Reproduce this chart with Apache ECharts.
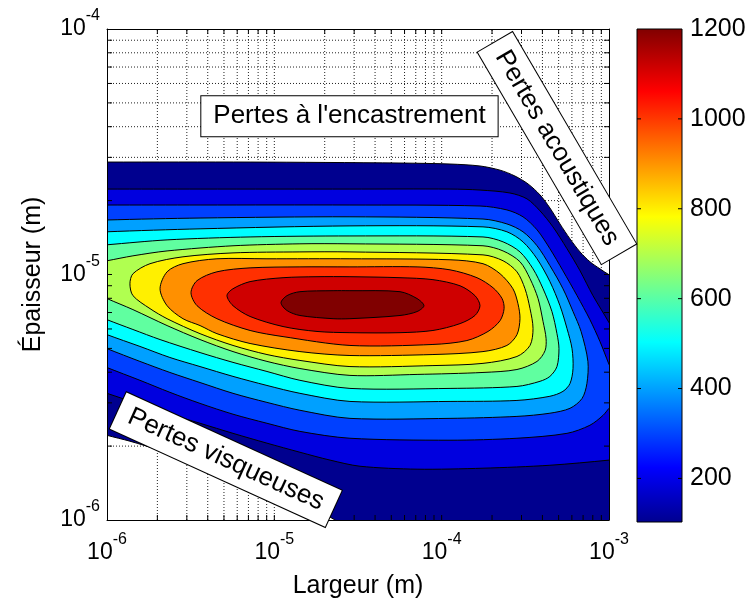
<!DOCTYPE html>
<html>
<head>
<meta charset="utf-8">
<script src="https://cdn.jsdelivr.net/npm/echarts@6/dist/echarts.min.js"></script>
<style>
html,body{margin:0;padding:0;background:#fff;}
#chart{width:750px;height:604px;}
</style>
</head>
<body>
<div id="chart"></div>
<script>
// ---------------- DATA ----------------
// Contour levels (same unit as colour bar)
const levels = [100, 200, 300, 400, 500, 600, 700, 800, 900, 1000, 1100, 1200];

// Filled-contour boundaries: [log10(largeur m), log10(épaisseur m)]
// (open contours are continued slightly outside the axes and clipped)
const contour100 = [[-6.072,-4.542],[-6.000,-4.542],[-5.145,-4.542],[-4.249,-4.546],[-3.950,-4.550],[-3.771,-4.558],[-3.651,-4.575],[-3.562,-4.599],[-3.484,-4.631],[-3.412,-4.676],[-3.353,-4.729],[-3.293,-4.794],[-3.233,-4.855],[-3.173,-4.908],[-3.114,-4.948],[-3.054,-4.977],[-3.000,-5.001],[-2.904,-5.038],[-2.904,-6.073],[-4.578,-6.032],[-4.637,-6.000],[-4.787,-5.947],[-4.966,-5.898],[-5.205,-5.829],[-5.444,-5.766],[-5.683,-5.716],[-5.863,-5.679],[-6.000,-5.655],[-6.072,-5.639]];
const contour200 = [[-6.072,-4.652],[-6.000,-4.652],[-5.444,-4.652],[-4.548,-4.652],[-3.950,-4.652],[-3.771,-4.656],[-3.592,-4.668],[-3.490,-4.692],[-3.412,-4.741],[-3.335,-4.806],[-3.251,-4.895],[-3.173,-4.985],[-3.096,-5.086],[-3.000,-5.196],[-2.952,-5.261],[-2.904,-5.505],[-2.928,-5.748],[-3.000,-5.756],[-3.353,-5.777],[-3.753,-5.789],[-4.147,-5.793],[-4.488,-5.781],[-4.667,-5.756],[-4.847,-5.724],[-5.044,-5.687],[-5.247,-5.647],[-5.444,-5.606],[-5.624,-5.569],[-5.803,-5.529],[-6.000,-5.484],[-6.072,-5.468]];
const contour300 = [[-6.072,-4.717],[-6.000,-4.717],[-5.444,-4.717],[-4.548,-4.717],[-3.771,-4.721],[-3.610,-4.737],[-3.514,-4.765],[-3.430,-4.818],[-3.353,-4.895],[-3.275,-4.985],[-3.191,-5.086],[-3.114,-5.184],[-3.054,-5.273],[-3.000,-5.366],[-2.964,-5.423],[-2.940,-5.484],[-2.964,-5.521],[-3.000,-5.545],[-3.036,-5.574],[-3.114,-5.614],[-3.251,-5.647],[-3.550,-5.667],[-3.950,-5.675],[-4.548,-5.667],[-4.847,-5.639],[-5.044,-5.606],[-5.247,-5.569],[-5.444,-5.525],[-5.624,-5.480],[-5.803,-5.431],[-6.000,-5.379],[-6.072,-5.358]];
const contour400 = [[-6.072,-4.782],[-6.000,-4.778],[-5.444,-4.770],[-4.548,-4.765],[-3.753,-4.774],[-3.610,-4.794],[-3.514,-4.826],[-3.430,-4.883],[-3.353,-4.964],[-3.275,-5.058],[-3.215,-5.151],[-3.167,-5.232],[-3.126,-5.354],[-3.132,-5.444],[-3.161,-5.505],[-3.233,-5.545],[-3.353,-5.565],[-3.550,-5.578],[-3.950,-5.586],[-4.548,-5.586],[-4.847,-5.553],[-5.044,-5.521],[-5.247,-5.484],[-5.444,-5.440],[-5.624,-5.399],[-5.803,-5.354],[-6.000,-5.302],[-6.072,-5.281]];
const contour500 = [[-6.072,-4.830],[-6.000,-4.826],[-5.444,-4.814],[-4.548,-4.802],[-3.753,-4.806],[-3.610,-4.826],[-3.514,-4.867],[-3.430,-4.936],[-3.353,-5.029],[-3.293,-5.127],[-3.251,-5.220],[-3.221,-5.302],[-3.215,-5.383],[-3.233,-5.444],[-3.275,-5.476],[-3.353,-5.496],[-3.550,-5.513],[-3.950,-5.517],[-4.548,-5.517],[-4.847,-5.484],[-5.044,-5.452],[-5.247,-5.415],[-5.444,-5.375],[-5.624,-5.338],[-5.803,-5.293],[-6.000,-5.245],[-6.072,-5.224]];
const contour600 = [[-6.072,-4.883],[-6.000,-4.879],[-5.641,-4.859],[-5.145,-4.847],[-4.548,-4.843],[-3.753,-4.847],[-3.633,-4.867],[-3.532,-4.908],[-3.454,-4.977],[-3.394,-5.058],[-3.341,-5.151],[-3.311,-5.241],[-3.299,-5.302],[-3.311,-5.375],[-3.353,-5.415],[-3.412,-5.435],[-3.550,-5.456],[-3.950,-5.464],[-4.548,-5.464],[-4.847,-5.431],[-5.044,-5.395],[-5.247,-5.358],[-5.444,-5.318],[-5.683,-5.265],[-5.845,-5.224],[-6.000,-5.184],[-6.072,-5.163]];
const contour700 = [[-6.072,-4.952],[-6.000,-4.944],[-5.845,-4.924],[-5.641,-4.904],[-5.247,-4.883],[-4.847,-4.875],[-4.548,-4.875],[-3.753,-4.883],[-3.633,-4.904],[-3.532,-4.948],[-3.472,-5.017],[-3.424,-5.098],[-3.394,-5.192],[-3.376,-5.261],[-3.382,-5.310],[-3.430,-5.354],[-3.550,-5.387],[-3.753,-5.399],[-4.147,-5.407],[-4.548,-5.411],[-4.847,-5.383],[-5.044,-5.354],[-5.247,-5.314],[-5.444,-5.265],[-5.641,-5.208],[-5.845,-5.143],[-6.000,-5.098],[-6.072,-5.074]];
const contour800 = [[-5.863,-5.038],[-5.845,-4.997],[-5.743,-4.956],[-5.546,-4.928],[-5.247,-4.912],[-4.847,-4.908],[-4.548,-4.908],[-3.753,-4.920],[-3.633,-4.944],[-3.550,-4.989],[-3.502,-5.058],[-3.472,-5.139],[-3.454,-5.220],[-3.472,-5.289],[-3.550,-5.334],[-3.753,-5.362],[-4.052,-5.371],[-4.548,-5.375],[-4.847,-5.350],[-5.044,-5.326],[-5.247,-5.289],[-5.444,-5.241],[-5.641,-5.180],[-5.743,-5.139],[-5.845,-5.086]];
const contour900 = [[-5.683,-5.058],[-5.641,-4.989],[-5.546,-4.956],[-5.343,-4.936],[-5.044,-4.936],[-4.548,-4.936],[-3.950,-4.940],[-3.753,-4.956],[-3.651,-4.997],[-3.574,-5.058],[-3.544,-5.119],[-3.532,-5.180],[-3.550,-5.245],[-3.610,-5.289],[-3.753,-5.314],[-4.052,-5.326],[-4.548,-5.330],[-4.847,-5.314],[-5.145,-5.281],[-5.343,-5.241],[-5.444,-5.208],[-5.546,-5.180],[-5.641,-5.127]];
const contour1000 = [[-5.498,-5.074],[-5.462,-5.025],[-5.343,-4.989],[-5.145,-4.973],[-4.847,-4.969],[-4.548,-4.969],[-4.147,-4.969],[-3.950,-4.981],[-3.789,-5.013],[-3.693,-5.054],[-3.639,-5.098],[-3.627,-5.139],[-3.651,-5.188],[-3.723,-5.232],[-3.849,-5.269],[-4.052,-5.285],[-4.548,-5.289],[-4.948,-5.253],[-5.145,-5.228],[-5.343,-5.180],[-5.462,-5.127]];
const contour1100 = [[-5.283,-5.086],[-5.247,-5.058],[-5.145,-5.029],[-4.948,-5.013],[-4.745,-5.009],[-4.548,-5.009],[-4.249,-5.013],[-4.052,-5.021],[-3.890,-5.046],[-3.801,-5.086],[-3.771,-5.127],[-3.801,-5.167],[-3.890,-5.200],[-4.052,-5.228],[-4.249,-5.237],[-4.548,-5.237],[-4.745,-5.232],[-4.948,-5.212],[-5.145,-5.171],[-5.247,-5.127]];
const contour1200 = [[-4.960,-5.115],[-4.924,-5.086],[-4.847,-5.070],[-4.649,-5.066],[-4.548,-5.066],[-4.249,-5.070],[-4.147,-5.098],[-4.106,-5.127],[-4.147,-5.151],[-4.249,-5.167],[-4.548,-5.180],[-4.649,-5.180],[-4.847,-5.167],[-4.924,-5.147]];

// Axes ranges and ticks
const xRange = [1e-6, 1e-3];
const yRange = [1e-6, 1e-4];
const xDecades = [1e-6, 1e-5, 1e-4];
const yDecades = [1e-6, 1e-5];
const minorMultipliers = [1, 2, 3, 4, 5, 6, 7, 8, 9];

// Colour bar
const colorRange = [103, 1200];
const colorTicks = [200, 400, 600, 800, 1000, 1200];

// Annotations: text, log10(largeur), log10(épaisseur), angle (deg)
const annotTexts = ["Pertes à l'encastrement", "Pertes acoustiques", "Pertes visqueuses"];
const annotLogX = [-4.551, -3.311, -5.290];
const annotLogY = [-4.355, -4.485, -5.754];
const annotAngle = [0, -59.7, -24.5];

// ---------------- STYLE ----------------
const FONT = "'Liberation Sans', Arial, Helvetica, sans-serif";
const bandColors = ['#00008F','#0000DF','#0040FF','#00A0FF','#00FFFF','#60FFA0','#B0FF50','#FFF000','#FF9000','#FF3000','#CF0000','#800000'];
const jetStops = [
  {offset: 0, color: '#00008F'},
  {offset: 7/63, color: '#0000FF'},
  {offset: 23/63, color: '#00FFFF'},
  {offset: 39/63, color: '#FFFF00'},
  {offset: 55/63, color: '#FF0000'},
  {offset: 1, color: '#800000'}
];

const contours = [contour100, contour200, contour300, contour400, contour500, contour600,
                  contour700, contour800, contour900, contour1000, contour1100, contour1200];

// grid / tick positions (major + minor, log axes)
const xGridVals = [];
xDecades.forEach(d => minorMultipliers.forEach(m => xGridVals.push(d * m)));
xGridVals.push(xRange[1]);
const yGridVals = [];
yDecades.forEach(d => minorMultipliers.forEach(m => yGridVals.push(d * m)));
yGridVals.push(yRange[1]);

const p10 = v => Math.pow(10, v);

const chart = echarts.init(document.getElementById('chart'), null, {renderer: 'canvas'});

const labelRich = {
  b: {fontSize: 23, fontFamily: FONT, color: '#000'},
  s: {fontSize: 16, fontFamily: FONT, color: '#000', padding: [0, 0, 26, 0]}
};
const expFormatter = v => '{b|10}{s|' + Math.round(Math.log10(v)) + '}';

const option = {
  animation: false,
  backgroundColor: '#fff',
  textStyle: {fontFamily: FONT},
  grid: [
    {left: 107, right: 141, top: 29, bottom: 82, containLabel: false},
    {left: 637, width: 45, top: 29, bottom: 82, containLabel: false}
  ],
  xAxis: [
    {
      type: 'log', logBase: 10, min: xRange[0], max: xRange[1], gridIndex: 0, position: 'bottom', z: 3,
      axisLine: {show: true, onZero: false, lineStyle: {color: '#000', width: 1}},
      axisTick: {show: false}, splitLine: {show: false},
      axisLabel: {formatter: expFormatter, rich: labelRich, margin: 12, showMinLabel: true, showMaxLabel: true},
      name: 'Largeur (m)', nameLocation: 'middle', nameGap: 54,
      nameTextStyle: {fontSize: 25, color: '#000', fontFamily: FONT}
    },
    {
      type: 'log', logBase: 10, min: xRange[0], max: xRange[1], gridIndex: 0, position: 'top', z: 3,
      axisLine: {show: true, onZero: false, lineStyle: {color: '#000', width: 1}},
      axisTick: {show: false}, splitLine: {show: false}, axisLabel: {show: false}
    },
    {type: 'value', min: 0, max: 1, gridIndex: 1, show: false}
  ],
  yAxis: [
    {
      type: 'log', logBase: 10, min: yRange[0], max: yRange[1], gridIndex: 0, position: 'left', z: 3,
      axisLine: {show: true, onZero: false, lineStyle: {color: '#000', width: 1}},
      axisTick: {show: false}, splitLine: {show: false},
      axisLabel: {formatter: expFormatter, rich: labelRich, margin: 7, showMinLabel: true, showMaxLabel: true},
      name: 'Épaisseur (m)', nameLocation: 'middle', nameGap: 61,
      nameTextStyle: {fontSize: 25, color: '#000', fontFamily: FONT}
    },
    {
      type: 'log', logBase: 10, min: yRange[0], max: yRange[1], gridIndex: 0, position: 'right', z: 3,
      axisLine: {show: true, onZero: false, lineStyle: {color: '#000', width: 1}},
      axisTick: {show: false}, splitLine: {show: false}, axisLabel: {show: false}
    },
    {type: 'value', min: colorRange[0], max: colorRange[1], gridIndex: 1, show: false}
  ],
  series: [
    // dotted grid (vertical)
    {
      type: 'custom', xAxisIndex: 0, yAxisIndex: 0, z: 1, silent: true, clip: false,
      data: xGridVals.filter(v => v > xRange[0] && v < xRange[1]).map(v => [v, 1e-5]),
      renderItem: (params, api) => {
        const v = api.value(0);
        const a = api.coord([v, yRange[0]]), b = api.coord([v, yRange[1]]);
        return {type: 'line', shape: {x1: a[0], y1: a[1], x2: b[0], y2: b[1]},
                style: {stroke: '#222', lineWidth: 1, lineDash: [1, 2]}};
      }
    },
    // dotted grid (horizontal)
    {
      type: 'custom', xAxisIndex: 0, yAxisIndex: 0, z: 1, silent: true, clip: false,
      data: yGridVals.filter(v => v > yRange[0] && v < yRange[1]).map(v => [1e-5, v]),
      renderItem: (params, api) => {
        const v = api.value(1);
        const a = api.coord([xRange[0], v]), b = api.coord([xRange[1], v]);
        return {type: 'line', shape: {x1: a[0], y1: a[1], x2: b[0], y2: b[1]},
                style: {stroke: '#222', lineWidth: 1, lineDash: [1, 2]}};
      }
    },
    // filled contours
    {
      type: 'custom', xAxisIndex: 0, yAxisIndex: 0, z: 2, silent: true, clip: true,
      data: contours.map((c, i) => [p10(c[1][0]), p10(c[1][1]), levels[i]]),
      renderItem: (params, api) => {
        const poly = contours[params.dataIndex];
        const pts = poly.map(p => api.coord([p10(p[0]), p10(p[1])]));
        return {type: 'polygon', shape: {points: pts, smooth: 0.3},
                style: {fill: bandColors[params.dataIndex], stroke: '#000', lineWidth: 1}};
      }
    },
    // inner ticks, x (bottom & top)
    {
      type: 'custom', xAxisIndex: 0, yAxisIndex: 0, z: 4, silent: true, clip: false,
      data: xGridVals.filter(v => v > xRange[0] && v < xRange[1]).map(v => [v, 1e-5]),
      renderItem: (params, api) => {
        const v = api.value(0);
        const a = api.coord([v, yRange[0]]), b = api.coord([v, yRange[1]]);
        return {type: 'group', children: [
          {type: 'line', shape: {x1: a[0], y1: a[1], x2: a[0], y2: a[1] - 5}, style: {stroke: '#000', lineWidth: 1}},
          {type: 'line', shape: {x1: b[0], y1: b[1], x2: b[0], y2: b[1] + 5}, style: {stroke: '#000', lineWidth: 1}}
        ]};
      }
    },
    // inner ticks, y (left & right)
    {
      type: 'custom', xAxisIndex: 0, yAxisIndex: 0, z: 4, silent: true, clip: false,
      data: yGridVals.filter(v => v > yRange[0] && v < yRange[1]).map(v => [1e-5, v]),
      renderItem: (params, api) => {
        const v = api.value(1);
        const a = api.coord([xRange[0], v]), b = api.coord([xRange[1], v]);
        return {type: 'group', children: [
          {type: 'line', shape: {x1: a[0], y1: a[1], x2: a[0] + 5, y2: a[1]}, style: {stroke: '#000', lineWidth: 1}},
          {type: 'line', shape: {x1: b[0], y1: b[1], x2: b[0] - 5, y2: b[1]}, style: {stroke: '#000', lineWidth: 1}}
        ]};
      }
    },
    // annotations
    {
      type: 'custom', xAxisIndex: 0, yAxisIndex: 0, z: 6, silent: true, clip: false,
      data: annotTexts.map((t, i) => [p10(annotLogX[i]), p10(annotLogY[i])]),
      renderItem: (params, api) => {
        const i = params.dataIndex;
        const c = api.coord([api.value(0), api.value(1)]);
        return {type: 'text', x: c[0], y: c[1], rotation: annotAngle[i] * Math.PI / 180,
                style: {text: annotTexts[i], fontSize: 26, fontFamily: FONT, fill: '#000',
                        align: 'center', verticalAlign: 'middle',
                        backgroundColor: '#fff', borderColor: '#000', borderWidth: 1,
                        padding: [7, 12, 7, 12]}};
      }
    },
    // colour bar
    {
      type: 'custom', xAxisIndex: 2, yAxisIndex: 2, z: 2, silent: true, clip: false,
      data: [[0, colorRange[0]]],
      renderItem: (params, api) => {
        const tl = api.coord([0, colorRange[1]]), br = api.coord([1, colorRange[0]]);
        return {type: 'rect', shape: {x: tl[0], y: tl[1], width: br[0] - tl[0], height: br[1] - tl[1]},
                style: {fill: new echarts.graphic.LinearGradient(0, 1, 0, 0, jetStops), stroke: '#000', lineWidth: 1}};
      }
    },
    // colour bar ticks & labels
    {
      type: 'custom', xAxisIndex: 2, yAxisIndex: 2, z: 4, silent: true, clip: false,
      data: colorTicks.map(v => [0, v]),
      renderItem: (params, api) => {
        const v = api.value(1);
        const l = api.coord([0, v]), r = api.coord([1, v]);
        const children = [];
        if (v < colorRange[1]) {
          children.push({type: 'line', shape: {x1: l[0], y1: l[1], x2: l[0] + 4, y2: l[1]}, style: {stroke: '#000', lineWidth: 1}});
          children.push({type: 'line', shape: {x1: r[0], y1: r[1], x2: r[0] - 4, y2: r[1]}, style: {stroke: '#000', lineWidth: 1}});
        }
        children.push({type: 'text', x: r[0] + 8, y: r[1],
                       style: {text: String(v), fontSize: 25, fontFamily: FONT, fill: '#000', align: 'left', verticalAlign: 'middle'}});
        return {type: 'group', children: children};
      }
    }
  ]
};
chart.setOption(option);
</script>
</body>
</html>
